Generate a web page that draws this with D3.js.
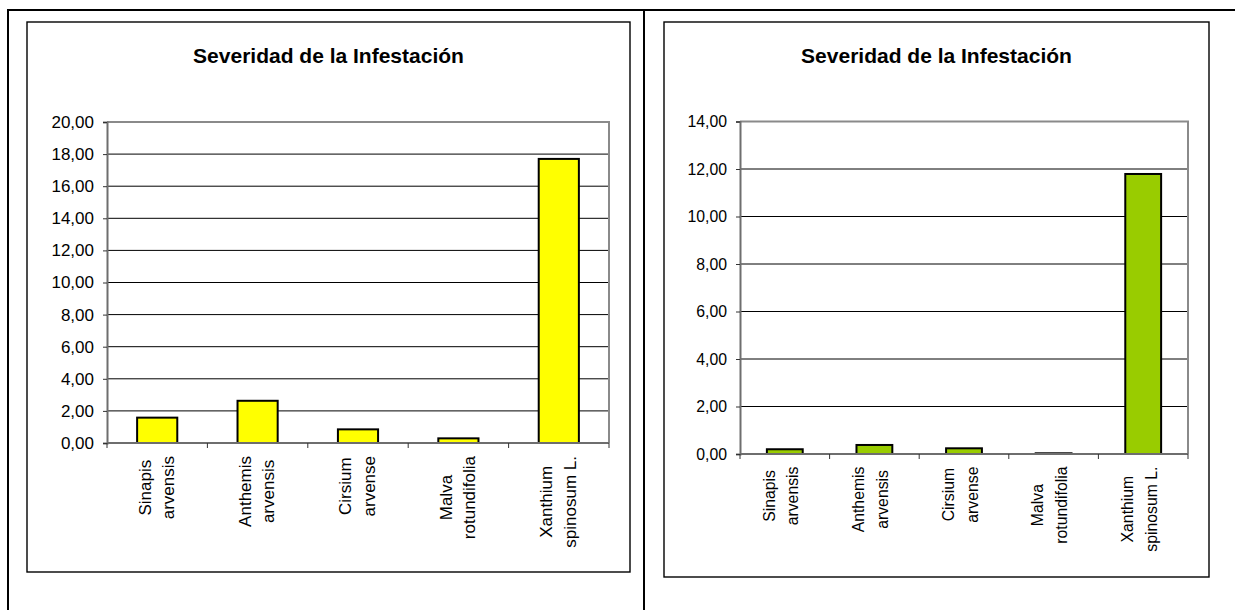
<!DOCTYPE html>
<html lang="es">
<head>
<meta charset="utf-8">
<title>Severidad de la Infestación</title>
<script src="https://cdn.jsdelivr.net/npm/d3@7"></script>
<style>
  html, body { margin: 0; padding: 0; background: #fff; }
  svg { display: block; }
  text { font-family: "Liberation Sans", Arial, Helvetica, sans-serif; fill: #000; }
</style>
</head>
<body>
<svg id="page" width="1235" height="610"></svg>
<script>
// Weed species shown on both charts
const categories = [
  "Sinapis arvensis",
  "Anthemis arvensis",
  "Cirsium arvense",
  "Malva rotundifolia",
  "Xanthium spinosum L."
];

// Infestation severity, first field
const severityA = [1.58, 2.63, 0.85, 0.29, 17.70];
// Infestation severity, second field
const severityB = [0.20, 0.38, 0.24, 0.03, 11.79];

// Value axis ticks
const ticksA = [0, 2, 4, 6, 8, 10, 12, 14, 16, 18, 20];
const ticksB = [0, 2, 4, 6, 8, 10, 12, 14];

const chartTitle = "Severidad de la Infestación";

const esLocale = d3.formatLocale({ decimal: ",", thousands: ".", grouping: [3], currency: ["", " €"] });
const fmt = esLocale.format(".2f");

const svg = d3.select("#page");

// Table frame holding the two charts
const frame = svg.append("g").attr("fill", "none").attr("stroke", "#000").attr("stroke-width", 2);
frame.append("line").attr("x1", 7).attr("x2", 1235).attr("y1", 10).attr("y2", 10);
frame.append("line").attr("x1", 8).attr("x2", 8).attr("y1", 9).attr("y2", 610);
frame.append("line").attr("x1", 644).attr("x2", 644).attr("y1", 9).attr("y2", 610);

function drawChart(cfg) {
  const g = svg.append("g");

  // chart area box
  g.append("rect")
    .attr("x", cfg.box[0]).attr("y", cfg.box[1])
    .attr("width", cfg.box[2] - cfg.box[0]).attr("height", cfg.box[3] - cfg.box[1])
    .attr("fill", "#fff").attr("stroke", "#000").attr("stroke-width", 1.4);

  // title
  g.append("text")
    .attr("x", (cfg.box[0] + cfg.box[2]) / 2)
    .attr("y", 63)
    .attr("text-anchor", "middle")
    .attr("font-size", 21)
    .attr("font-weight", "bold")
    .text(chartTitle);

  const [px0, py0, px1, py1] = cfg.plot;

  const x = d3.scaleBand()
    .domain(categories)
    .range([px0, px1])
    .paddingInner(0.6)
    .paddingOuter(0.3);

  const y = d3.scaleLinear()
    .domain([0, d3.max(cfg.ticks)])
    .range([py1, py0]);

  // horizontal gridlines
  g.append("g")
    .selectAll("line")
    .data(cfg.ticks.filter(t => t > 0 && t < d3.max(cfg.ticks)))
    .join("line")
    .attr("x1", px0).attr("x2", px1)
    .attr("y1", d => y(d)).attr("y2", d => y(d))
    .attr("stroke", "#000").attr("stroke-width", 1);

  // plot area border (top and right)
  g.append("path")
    .attr("d", `M${px0},${py0}H${px1}V${py1}`)
    .attr("fill", "none").attr("stroke", "#8a8a8a").attr("stroke-width", 2);

  // bars
  g.append("g")
    .selectAll("rect")
    .data(cfg.values)
    .join("rect")
    .attr("x", (d, i) => x(categories[i]))
    .attr("y", d => y(d))
    .attr("width", x.bandwidth())
    .attr("height", d => y(0) - y(d))
    .attr("fill", cfg.color)
    .attr("stroke", "#000")
    .attr("stroke-width", 2);

  // value axis
  const yAxis = d3.axisLeft(y)
    .tickValues(cfg.ticks)
    .tickFormat(fmt)
    .tickSize(4)
    .tickPadding(9);
  const ya = g.append("g").attr("transform", `translate(${px0},0)`).call(yAxis);
  ya.select(".domain").attr("stroke", "#6e6e6e").attr("stroke-width", 2);
  ya.selectAll(".tick line").attr("stroke", "#333");
  ya.selectAll(".tick text")
    .attr("font-size", cfg.fontSize)
    .attr("font-family", "'Liberation Sans', Arial, sans-serif")
    .attr("fill", "#000");

  // category axis: line plus boundary ticks
  const step = x.step();
  const bounds = d3.range(categories.length + 1).map(i => px0 + i * step);
  g.append("line")
    .attr("x1", px0).attr("x2", px1).attr("y1", py1).attr("y2", py1)
    .attr("stroke", "#6e6e6e").attr("stroke-width", 2);
  g.append("g")
    .selectAll("line")
    .data(bounds)
    .join("line")
    .attr("x1", d => d).attr("x2", d => d)
    .attr("y1", py1).attr("y2", py1 + 5)
    .attr("stroke", "#333").attr("stroke-width", 1);

  // rotated two-line category labels
  const labels = g.append("g");
  categories.forEach(name => {
    const cut = name.indexOf(" ");
    const lines = [name.slice(0, cut), name.slice(cut + 1)];
    const cx = x(name) + x.bandwidth() / 2;
    const texts = lines.map((ln, k) =>
      labels.append("text")
        .attr("font-size", cfg.fontSize)
        .attr("text-anchor", "middle")
        .text(ln)
    );
    const maxLen = d3.max(texts, t => t.node().getComputedTextLength());
    const cy = py1 + cfg.labelGap + maxLen / 2;
    texts.forEach((t, k) => {
      const bx = cx + cfg.baseOffsets[k];
      t.attr("transform", `translate(${bx},${cy}) rotate(-90)`);
    });
  });
}

drawChart({
  box: [27, 22, 630, 572],
  plot: [107, 122, 609, 443],
  values: severityA,
  ticks: ticksA,
  color: "#ffff00",
  fontSize: 17,
  labelGap: 13,
  baseOffsets: [-6.7, 16.8]
});

drawChart({
  box: [664, 22, 1209, 577],
  plot: [740, 121.5, 1188, 454],
  values: severityB,
  ticks: ticksB,
  color: "#99cc00",
  fontSize: 15.8,
  labelGap: 12.5,
  baseOffsets: [-10.3, 13.5]
});
</script>
</body>
</html>
